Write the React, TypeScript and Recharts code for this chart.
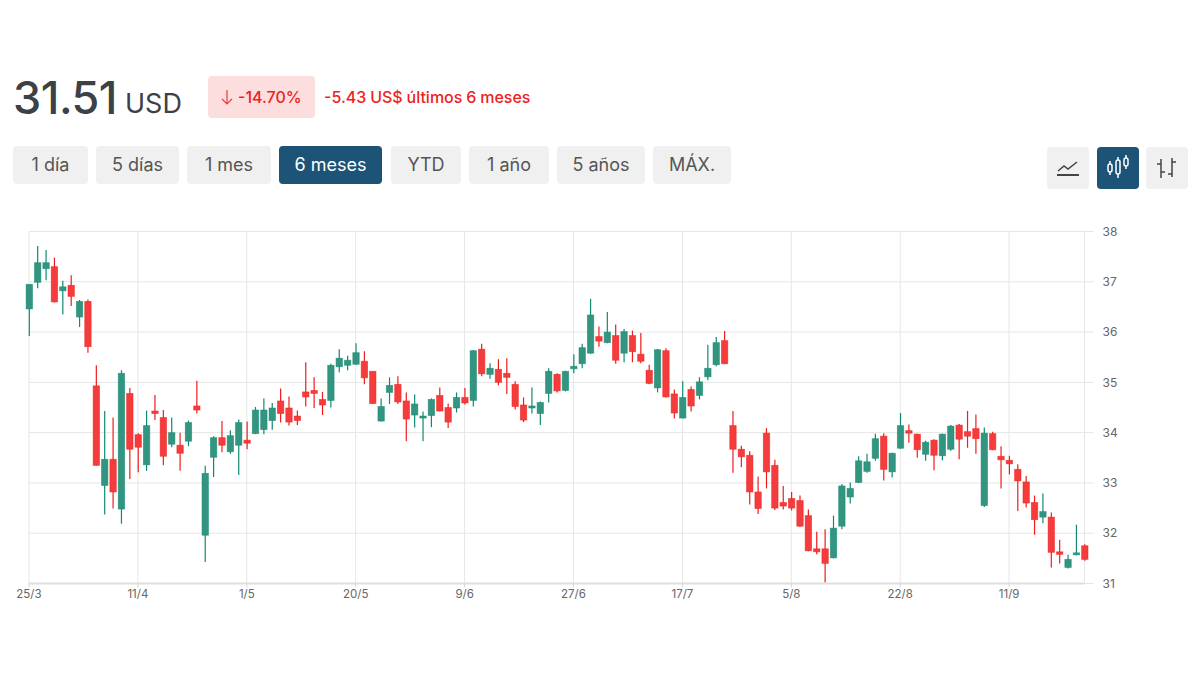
import { Bar, CartesianGrid, ComposedChart, XAxis, YAxis } from "recharts";

const opens = [
  36.46, 36.99, 37.26, 37.3, 36.82, 36.93, 36.3, 36.61, 34.93, 32.95, 33.47, 32.48, 34.78, 33.96, 33.36, 34.43,
  34.3, 33.77, 33.75, 33.83, 34.53, 31.96, 33.51, 33.9, 33.62, 33.75, 33.85, 33.98, 34.06, 34.24, 34.63, 34.49,
  34.33, 34.81, 34.84, 34.66, 34.64, 35.31, 35.34, 35.36, 35.42, 35.22, 34.23, 34.8, 34.96, 34.63, 34.35, 34.29,
  34.34, 34.74, 34.5, 34.49, 34.7, 34.64, 35.66, 35.16, 35.26, 35.18, 34.96, 34.55, 34.49, 34.38, 34.78, 35.16,
  34.84, 35.27, 35.37, 35.58, 35.91, 35.79, 35.93, 35.58, 35.93, 35.56, 35.24, 34.89, 35.63, 34.77, 34.29, 34.86,
  34.74, 35.11, 35.35, 35.83, 34.14, 33.67, 33.55, 32.82, 33.99, 33.35, 32.61, 32.69, 32.65, 32.35, 31.69, 31.69,
  31.51, 32.14, 32.72, 33.01, 33.23, 33.49, 33.93, 33.22, 33.69, 34.04, 33.97, 33.57, 33.85, 33.54, 33.67, 34.15,
  34.02, 34.08, 32.55, 33.98, 33.53, 33.45, 33.27, 33.02, 32.61, 32.32, 32.32, 31.63, 31.32, 31.57, 31.75,
];
const closes = [
  36.95, 37.38, 37.38, 36.6, 36.9, 36.71, 36.61, 35.71, 33.35, 33.47, 32.82, 35.18, 33.67, 33.71, 34.14, 34.38,
  33.53, 34.0, 33.59, 34.2, 34.45, 33.19, 33.9, 33.75, 33.94, 34.2, 33.79, 34.45, 34.45, 34.49, 34.38, 34.21,
  34.24, 34.71, 34.78, 34.55, 35.34, 35.48, 35.44, 35.59, 35.09, 34.58, 34.52, 34.94, 34.61, 34.27, 34.57, 34.33,
  34.66, 34.43, 34.21, 34.7, 34.59, 35.63, 35.17, 35.28, 35.0, 35.1, 34.52, 34.25, 34.53, 34.6, 35.22, 34.83,
  35.22, 35.32, 35.69, 36.34, 35.82, 36.0, 35.44, 36.01, 35.61, 35.42, 34.98, 35.65, 34.71, 34.39, 34.7, 34.53,
  35.01, 35.28, 35.79, 35.37, 33.67, 33.52, 32.82, 32.49, 33.22, 32.5, 32.54, 32.5, 32.14, 31.65, 31.63, 31.4,
  32.1, 32.94, 32.89, 33.44, 33.42, 33.88, 33.27, 33.59, 34.14, 33.99, 33.66, 33.81, 33.55, 33.97, 34.13, 33.87,
  33.93, 33.88, 33.99, 33.66, 33.46, 33.38, 33.04, 32.6, 32.27, 32.43, 31.62, 31.58, 31.48, 31.61, 31.48,
];
const highs = [
  36.95, 37.71, 37.63, 37.48, 37.02, 37.13, 36.64, 36.65, 35.34, 34.43, 34.3, 35.24, 34.89, 33.99, 34.44, 34.75,
  34.45, 34.3, 34.0, 34.24, 35.03, 33.34, 33.93, 34.23, 34.05, 34.26, 34.22, 34.51, 34.68, 34.59, 34.88, 34.72,
  34.44, 35.4, 35.1, 34.81, 35.37, 35.66, 35.53, 35.78, 35.62, 35.22, 34.68, 35.1, 35.12, 34.8, 34.76, 34.42,
  34.68, 34.9, 34.58, 34.8, 34.89, 35.64, 35.77, 35.38, 35.46, 35.48, 35.02, 34.7, 34.9, 34.62, 35.28, 35.18,
  35.23, 35.56, 35.77, 36.66, 36.11, 36.4, 36.15, 36.06, 36.03, 35.98, 35.35, 35.66, 35.68, 34.86, 35.02, 34.92,
  35.1, 35.75, 35.9, 36.02, 34.43, 33.74, 33.63, 33.13, 34.09, 33.46, 32.94, 32.82, 32.75, 32.47, 32.03, 32.08,
  32.35, 32.98, 33.01, 33.53, 33.58, 33.98, 33.99, 33.6, 34.39, 34.16, 33.98, 33.84, 33.87, 33.98, 34.15, 34.17,
  34.43, 34.36, 34.1, 34.02, 33.73, 33.54, 33.37, 33.14, 32.75, 32.79, 32.41, 31.87, 31.57, 32.17, 31.78,
];
const lows = [
  35.92, 36.87, 37.03, 36.59, 36.35, 36.52, 36.1, 35.59, 33.34, 32.37, 32.49, 32.19, 33.08, 33.21, 33.24, 34.25,
  33.35, 33.71, 33.24, 33.73, 34.38, 31.43, 33.12, 33.61, 33.58, 33.16, 33.67, 33.97, 33.97, 34.06, 34.2, 34.14,
  34.15, 34.52, 34.49, 34.35, 34.5, 35.2, 35.24, 35.35, 34.96, 34.57, 34.22, 34.57, 34.57, 33.83, 34.1, 33.83,
  34.11, 34.42, 34.09, 34.4, 34.56, 34.52, 35.12, 35.07, 34.94, 34.77, 34.46, 34.21, 34.38, 34.15, 34.6, 34.8,
  34.82, 35.18, 35.28, 35.57, 35.71, 35.78, 35.37, 35.4, 35.4, 35.38, 34.96, 34.8, 34.7, 34.28, 34.28, 34.42,
  34.66, 35.04, 35.32, 35.36, 33.2, 33.31, 32.57, 32.38, 32.89, 32.46, 32.47, 32.45, 32.13, 31.64, 31.58, 31.02,
  31.5, 32.08, 32.59, 33.0, 33.2, 33.44, 33.05, 33.11, 33.68, 33.8, 33.5, 33.44, 33.25, 33.45, 33.64, 33.47,
  33.7, 33.58, 32.52, 33.65, 32.89, 33.17, 32.44, 32.51, 31.97, 32.2, 31.32, 31.4, 31.3, 31.56, 31.45,
];

const tickLabels = ["25/3", "11/4", "1/5", "20/5", "9/6", "27/6", "17/7", "5/8", "22/8", "11/9"];
const tickPositions = [0, 13, 26, 39, 52, 65, 78, 91, 104, 117];
const lastIndex = 126;
const priceTicks = [31, 32, 33, 34, 35, 36, 37, 38];
const ranges = ["1 día", "5 días", "1 mes", "6 meses", "YTD", "1 año", "5 años", "MÁX."];
const rangeLeft = [13, 96, 187, 279, 391, 469, 557, 653];
const rangeWidth = [75, 83, 84, 103, 70, 80, 88, 78];

const rows = opens.map((open, i) => ({
  i,
  open,
  close: closes[i],
  high: highs[i],
  low: lows[i],
  range: [lows[i], highs[i]],
}));

const UP = { fill: "#339480", line: "#0f8a70" };
const DOWN = { fill: "#f43c3c", line: "#f01c1c" };
const GRID = "#e6e6e6";
const FONT = "Inter, 'Noto Sans', sans-serif";

// y/height of the bar span low..high, so the body is placed with the same px per unit
function Candle(props: any) {
  const { x, y, width, height, payload } = props;
  const unit = height / (payload.high - payload.low);
  const cx = x + width / 2;
  const up = payload.close >= payload.open;
  const c = up ? UP : DOWN;
  const top = y + (payload.high - Math.max(payload.open, payload.close)) * unit;
  const bodyH = Math.abs(payload.open - payload.close) * unit;
  return (
    <g>
      <line x1={cx} x2={cx} y1={y} y2={y + height} stroke={c.line} strokeWidth={1.2} />
      <rect x={cx - 3.2} y={top} width={6.4} height={bodyH} fill={c.fill} stroke={c.line} strokeWidth={0.8} strokeOpacity={0.6} />
    </g>
  );
}

function IconButton({ left, active, children }: { left: number; active?: boolean; children: any }) {
  return (
    <div
      style={{
        position: "absolute",
        left,
        top: 147,
        width: 42,
        height: 42,
        borderRadius: 4,
        background: active ? "#1c5376" : "#f0f0f0",
      }}
    >
      <svg width={42} height={42} fill="none" stroke={active ? "#fff" : "#444"} strokeWidth={1.5}>
        {children}
      </svg>
    </div>
  );
}

export default function App() {
  return (
    <div
      style={{
        position: "absolute",
        left: 0,
        top: 0,
        width: 1200,
        height: 675,
        background: "#fff",
        overflow: "hidden",
        fontFamily: FONT,
      }}
    >
      <div style={{ position: "absolute", left: 13, top: 70, fontSize: 45, lineHeight: "56px", color: "#3c4148", fontWeight: 500, letterSpacing: -0.5 }}>
        31.51
      </div>
      <div style={{ position: "absolute", left: 125, top: 87, fontSize: 27, lineHeight: "34px", color: "#3c4148" }}>USD</div>
      <div style={{ position: "absolute", left: 208, top: 76, width: 107, height: 42, borderRadius: 4, background: "#fcdede" }}>
        <svg width={16} height={18} style={{ position: "absolute", left: 12, top: 13 }} fill="none" stroke="#ee3a3a" strokeWidth={1.2}>
          <path d="M7 1V15M2 10L7 15L12 10" />
        </svg>
        <div style={{ position: "absolute", left: 30, top: 11, fontSize: 16, lineHeight: "20px", color: "#ee2222", fontWeight: 500 }}>-14.70%</div>
      </div>
      <div style={{ position: "absolute", left: 324, top: 87, fontSize: 16, lineHeight: "20px", color: "#ee2222", fontWeight: 500, whiteSpace: "nowrap", wordSpacing: -0.4 }}>
        -5.43 US$ últimos 6 meses
      </div>

      {ranges.map((label, i) => (
        <div
          key={label}
          style={{
            position: "absolute",
            left: rangeLeft[i],
            top: 146,
            width: rangeWidth[i],
            height: 38,
            lineHeight: "37px",
            borderRadius: 4,
            textAlign: "center",
            fontSize: 18,
            background: label === "6 meses" ? "#1c5376" : "#f0f0f0",
            color: label === "6 meses" ? "#fff" : "#555",
          }}
        >
          {label}
        </div>
      ))}

      <IconButton left={1047}>
        <path d="M10 28H32" strokeWidth={2} />
        <path d="M11 24L17 19L21 22L30 15" />
      </IconButton>
      <IconButton left={1097} active>
        <rect x={11} y={17} width={4} height={8} rx={2} />
        <path d="M13 14V17M13 25V28" />
        <rect x={19} y={13} width={4} height={14} rx={2} />
        <path d="M21 10V13M21 27V31" />
        <rect x={27} y={11} width={4} height={8} rx={2} />
        <path d="M29 8V11M29 19V22" />
      </IconButton>
      <IconButton left={1146}>
        <path d="M15 12V31M11 17H15M15 25H19" strokeWidth={1.5} />
        <path d="M26 11V30M26 15H30M22 27H26" strokeWidth={1.5} />
      </IconButton>

      <ComposedChart
        width={1200}
        height={675}
        data={rows}
        margin={{ top: 231.5, right: 85.5, bottom: 61.5, left: 29 }}
        style={{ position: "absolute", left: 0, top: 0, fontFamily: FONT }}
      >
        <CartesianGrid stroke={GRID} strokeWidth={1} verticalValues={[...tickPositions, lastIndex]} />
        <XAxis
          dataKey="i"
          type="number"
          domain={[0, lastIndex]}
          ticks={tickPositions}
          tickFormatter={(v: number) => tickLabels[tickPositions.indexOf(v)]}
          tick={{ fontSize: 11.5, fill: "#666" }}
          tickLine={{ stroke: "#d8d8d8" }}
          tickSize={4}
          axisLine={{ stroke: "#dedede", strokeWidth: 2 }}
          interval={0}
          height={30}
        />
        <YAxis
          orientation="right"
          type="number"
          domain={[31, 38]}
          ticks={priceTicks}
          tick={{ fontSize: 12, fill: "#666" }}
          tickLine={{ stroke: GRID }}
          tickSize={9}
          tickMargin={9}
          axisLine={false}
          interval={0}
          width={30}
        />
        <Bar dataKey="range" shape={Candle} barSize={7} isAnimationActive={false} />
      </ComposedChart>
    </div>
  );
}
